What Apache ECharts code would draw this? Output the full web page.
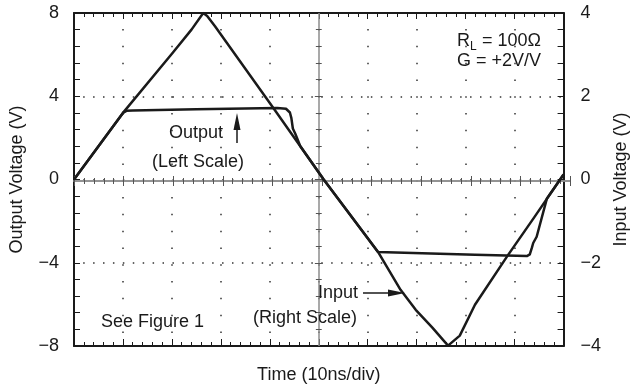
<!DOCTYPE html>
<html>
<head>
<meta charset="utf-8">
<script src="https://cdn.jsdelivr.net/npm/echarts@6.0.0/dist/echarts.min.js"></script>
<style>
  html, body { margin: 0; padding: 0; background: #fff; }
  #chart { width: 638px; height: 389px; }
</style>
</head>
<body>
<div id="chart"></div>
<script>
// time in ns (10ns/div), input read on right scale, output on left scale
const inputTime  = [0, 10, 20, 24, 26.4, 27.2, 28.8, 40.9, 51, 62.1, 66.7, 69.8, 73.2, 76.4, 78.8, 81.9, 88.5, 94, 100];
const inputVolts = [0, 1.6, 3.02, 3.6, 4.0, 3.93, 3.68, 1.69, 0, -1.74, -2.65, -3.13, -3.56, -3.99, -3.75, -3.01, -1.84, -0.91, 0.12];

const outputTime  = [0, 10, 10.7, 12, 25, 41.5, 43.3, 44.1, 44.4, 44.7, 45.2, 46.2, 51, 62.1, 81.9, 92.5, 93.1, 93.5, 93.8, 94.2, 94.5, 96.6, 100];
const outputVolts = [0, 3.2, 3.3, 3.32, 3.37, 3.44, 3.4, 3.22, 2.95, 2.45, 2.2, 1.61, 0, -3.48, -3.62, -3.68, -3.6, -3.3, -3.05, -2.98, -2.75, -0.91, 0.24];

const timeRange = [0, 100];      // 10 divisions
const leftScale = [-8, 8];       // Output Voltage (V)
const rightScale = [-4, 4];      // Input Voltage (V)

const FONT = 'Liberation Sans, Arial, sans-serif';
const INK = '#1a1a1a';

function pairs(xs, ys) {
  return xs.map((x, i) => [x, ys[i]]);
}
function minus(v) {
  return String(v).replace('-', '\u2212');
}

let myChart = echarts.init(document.getElementById('chart'));

const gridBox = {left: 74, right: 68, top: 13, bottom: 40};
const frameLine = {show: true, onZero: false, lineStyle: {color: INK, width: 2}};
const tickStyle = {color: INK, width: 1};

function hiddenAxis(grid, range) {
  return {gridIndex: grid, type: 'value', min: range[0], max: range[1], show: false};
}
function centerX(grid, inside) {
  return {
    gridIndex: grid, type: 'value', min: timeRange[0], max: timeRange[1], interval: 10,
    axisLine: {show: true, onZero: true, lineStyle: {color: '#8c8c8c', width: 1.5}},
    axisTick: {show: true, inside: inside, length: 5, lineStyle: {color: '#555', width: 1}},
    minorTick: {show: true, splitNumber: 5, length: 3, lineStyle: {color: '#555', width: 1}},
    axisLabel: {show: false},
    splitLine: {show: false}
  };
}

// vertical centre line of the graticule with its small cross ticks (every 0.8 V)
const midTime = (timeRange[0] + timeRange[1]) / 2;
const centreMarks = [{xAxis: midTime, lineStyle: {color: '#8c8c8c', width: 1.5, type: 'solid'}}];
for (let k = 1; k < 20; k++) {
  const v = leftScale[0] + k * 0.8;
  const half = (k % 5 === 0) ? 0.8 : 0.6;
  centreMarks.push([
    {coord: [midTime - half, v], lineStyle: {color: '#555', width: 1, type: 'solid'}},
    {coord: [midTime + half, v]}
  ]);
}

myChart.setOption({
  animation: false,
  backgroundColor: '#fff',
  textStyle: {fontFamily: FONT},
  grid: [
    Object.assign({}, gridBox),
    Object.assign({}, gridBox),
    Object.assign({}, gridBox)
  ],
  xAxis: [
    { // bottom frame + vertical grid
      gridIndex: 0, type: 'value', min: timeRange[0], max: timeRange[1], interval: 10,
      position: 'bottom',
      name: 'Time (10ns/div)', nameLocation: 'middle', nameGap: 20,
      nameTextStyle: {fontSize: 18, color: INK, fontFamily: FONT},
      axisLine: frameLine,
      axisTick: {show: true, inside: true, length: 7, lineStyle: tickStyle},
      minorTick: {show: true, splitNumber: 5, length: 4, lineStyle: tickStyle},
      axisLabel: {show: false},
      splitLine: {show: true, lineStyle: {color: '#333', width: 1.5, type: [1.5, 15.3], dashOffset: 0.75}}
    },
    { // top frame
      gridIndex: 0, type: 'value', min: timeRange[0], max: timeRange[1], interval: 10,
      position: 'top',
      axisLine: frameLine,
      axisTick: {show: true, inside: true, length: 6, lineStyle: tickStyle},
      minorTick: {show: true, splitNumber: 5, length: 4, lineStyle: tickStyle},
      axisLabel: {show: false},
      splitLine: {show: false}
    },
    centerX(1, true),
    centerX(2, false)
  ],
  yAxis: [
    { // left: output
      gridIndex: 0, type: 'value', min: leftScale[0], max: leftScale[1], interval: 4,
      position: 'left',
      name: 'Output Voltage (V)', nameLocation: 'middle', nameGap: 48,
      nameTextStyle: {fontSize: 18, color: INK, fontFamily: FONT},
      axisLine: frameLine,
      axisTick: {show: true, inside: true, length: 6, lineStyle: tickStyle},
      minorTick: {show: true, splitNumber: 5, length: 6, lineStyle: tickStyle},
      axisLabel: {show: true, margin: 15, fontSize: 18, color: INK, fontFamily: FONT, formatter: minus},
      splitLine: {show: true, lineStyle: {color: '#333', width: 1.5, type: [1.5, 8.42], dashOffset: 0.75}}
    },
    { // right: input
      gridIndex: 0, type: 'value', min: rightScale[0], max: rightScale[1], interval: 2,
      position: 'right',
      name: 'Input Voltage (V)', nameLocation: 'middle', nameGap: 48,
      nameTextStyle: {fontSize: 18, color: INK, fontFamily: FONT},
      axisLine: frameLine,
      axisTick: {show: true, inside: true, length: 6, lineStyle: tickStyle},
      minorTick: {show: true, splitNumber: 5, length: 6, lineStyle: tickStyle},
      axisLabel: {show: true, margin: 17, fontSize: 18, color: INK, fontFamily: FONT, formatter: minus},
      splitLine: {show: false}
    },
    hiddenAxis(1, leftScale),
    hiddenAxis(2, leftScale)
  ],
  series: [
    {
      name: 'Output', type: 'line', xAxisIndex: 0, yAxisIndex: 0,
      data: pairs(outputTime, outputVolts),
      showSymbol: false, symbol: 'none', smooth: false, z: 5,
      lineStyle: {color: INK, width: 2.5, join: 'round'},
      markLine: {
        silent: true, symbol: 'none', z: 1, animation: false,
        label: {show: false},
        emphasis: {disabled: true},
        data: centreMarks
      }
    },
    {
      name: 'Input', type: 'line', xAxisIndex: 0, yAxisIndex: 1,
      data: pairs(inputTime, inputVolts),
      showSymbol: false, symbol: 'none', smooth: false, z: 5,
      lineStyle: {color: INK, width: 2.5, join: 'round'}
    }
  ],
  graphic: [
    {type: 'text', z: 20, style: {text: 'R', x: 457, y: 41, font: '18px ' + FONT, fill: INK, align: 'left', verticalAlign: 'middle'}},
    {type: 'text', z: 20, style: {text: 'L', x: 470, y: 47, font: '12px ' + FONT, fill: INK, align: 'left', verticalAlign: 'middle'}},
    {type: 'text', z: 20, style: {text: '= 100\u03A9', x: 482, y: 41, font: '18px ' + FONT, fill: INK, align: 'left', verticalAlign: 'middle'}},
    {type: 'text', z: 20, style: {text: 'G = +2V/V', x: 457, y: 61, font: '18px ' + FONT, fill: INK, align: 'left', verticalAlign: 'middle'}},

    {type: 'text', z: 20, style: {text: 'Output', x: 196, y: 133, font: '18px ' + FONT, fill: INK, align: 'center', verticalAlign: 'middle'}},
    {type: 'text', z: 20, style: {text: '(Left Scale)', x: 198, y: 162, font: '18px ' + FONT, fill: INK, align: 'center', verticalAlign: 'middle'}},
    {type: 'line', z: 20, shape: {x1: 237, y1: 143, x2: 237, y2: 128}, style: {stroke: INK, lineWidth: 1.5}},
    {type: 'polygon', z: 20, shape: {points: [[237, 113], [233.5, 130], [240.5, 130]]}, style: {fill: INK}},

    {type: 'text', z: 20, style: {text: 'Input', x: 358, y: 293, font: '18px ' + FONT, fill: INK, align: 'right', verticalAlign: 'middle'}},
    {type: 'text', z: 20, style: {text: '(Right Scale)', x: 357, y: 318, font: '18px ' + FONT, fill: INK, align: 'right', verticalAlign: 'middle'}},
    {type: 'line', z: 20, shape: {x1: 363, y1: 293, x2: 392, y2: 293}, style: {stroke: INK, lineWidth: 1.5}},
    {type: 'polygon', z: 20, shape: {points: [[405, 293], [388, 289.5], [388, 296.5]]}, style: {fill: INK}},

    {type: 'text', z: 20, style: {text: 'See Figure 1', x: 101, y: 322, font: '18px ' + FONT, fill: INK, align: 'left', verticalAlign: 'middle'}}
  ]
});
</script>
</body>
</html>
